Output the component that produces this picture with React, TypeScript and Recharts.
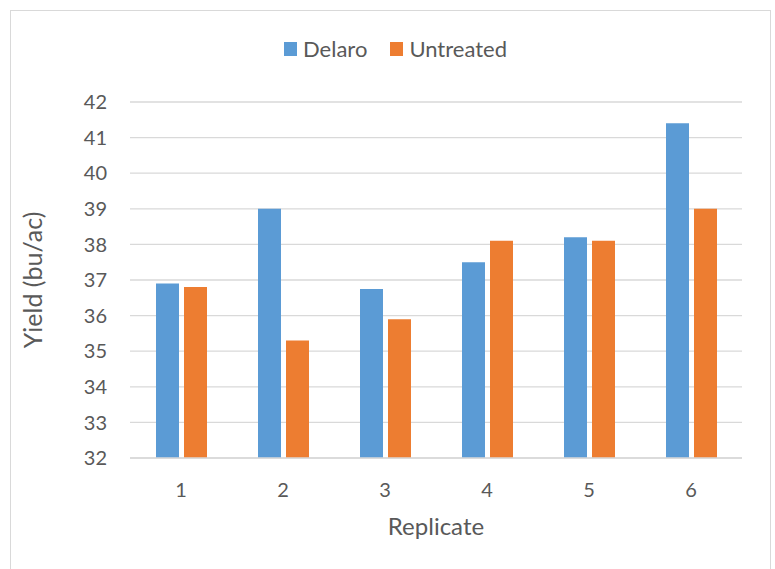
import { Bar, BarChart, CartesianGrid, Legend, XAxis, YAxis } from "recharts";

const replicates = ["1", "2", "3", "4", "5", "6"];
const delaro = [36.9, 39.0, 36.75, 37.5, 38.2, 41.4];
const untreated = [36.8, 35.3, 35.9, 38.1, 38.1, 39.0];
const yTicks = [32, 33, 34, 35, 36, 37, 38, 39, 40, 41, 42];

const data = replicates.map((r, i) => ({
  replicate: r,
  Delaro: delaro[i],
  Untreated: untreated[i],
}));

const font = "Lato, 'Noto Sans', sans-serif";
const textColor = "#595959";
const gridColor = "#d9d9d9";

const renderLegend = (props: any) => {
  const { payload } = props;
  return (
    <div
      style={{
        display: "flex",
        justifyContent: "center",
        gap: 23,
        marginLeft: 16,
        fontFamily: font,
        fontSize: 22,
        color: textColor,
        lineHeight: "26px",
      }}
    >
      {payload.map((p: any) => (
        <span key={p.value} style={{ display: "flex", alignItems: "center" }}>
          <span
            style={{
              width: 13,
              height: 14,
              background: p.color,
              marginRight: 6,
              display: "inline-block",
            }}
          />
          {p.value}
        </span>
      ))}
    </div>
  );
};

export default function App() {
  return (
    <div
      style={{
        position: "absolute",
        top: 0,
        left: 0,
        width: 775,
        height: 569,
        background: "#fff",
        overflow: "hidden",
      }}
    >
      <div
        style={{
          position: "absolute",
          left: 10,
          top: 10,
          width: 761,
          height: 600,
          border: `1px solid ${gridColor}`,
          boxSizing: "border-box",
        }}
      />
      <div style={{ position: "absolute", left: 0, top: 0 }}>
        <BarChart
          width={775}
          height={569}
          data={data}
          margin={{ top: 102, right: 33, left: 0, bottom: 0 }}
          barSize={23}
          barGap={5}
        >
          <CartesianGrid vertical={false} stroke={gridColor} strokeWidth={1.3} />
          <XAxis
            dataKey="replicate"
            height={111}
            axisLine={{ stroke: gridColor, strokeWidth: 1.3 }}
            tickLine={false}
            tickSize={0}
            tickMargin={25}
            tick={{ fill: textColor, fontSize: 20, fontFamily: font }}
            label={{
              value: "Replicate",
              position: "insideBottom",
              offset: 34,
              fill: textColor,
              fontSize: 24,
              fontFamily: font,
            }}
          />
          <YAxis
            width={130}
            domain={[32, 42]}
            ticks={yTicks}
            interval={0}
            allowDataOverflow
            axisLine={false}
            tickLine={false}
            tickSize={0}
            tickMargin={23}
            tick={{ fill: textColor, fontSize: 20, fontFamily: font }}
            label={{
              value: "Yield (bu/ac)",
              angle: -90,
              position: "insideLeft",
              offset: 33,
              fill: textColor,
              fontSize: 25,
              fontFamily: font,
              style: { textAnchor: "middle" },
            }}
          />
          <Legend
            verticalAlign="middle"
            align="center"
            content={renderLegend}
            wrapperStyle={{ top: 36, left: 0, width: 775 }}
          />
          <Bar dataKey="Delaro" fill="#5B9BD5" isAnimationActive={false} />
          <Bar dataKey="Untreated" fill="#ED7D31" isAnimationActive={false} />
        </BarChart>
      </div>
    </div>
  );
}
